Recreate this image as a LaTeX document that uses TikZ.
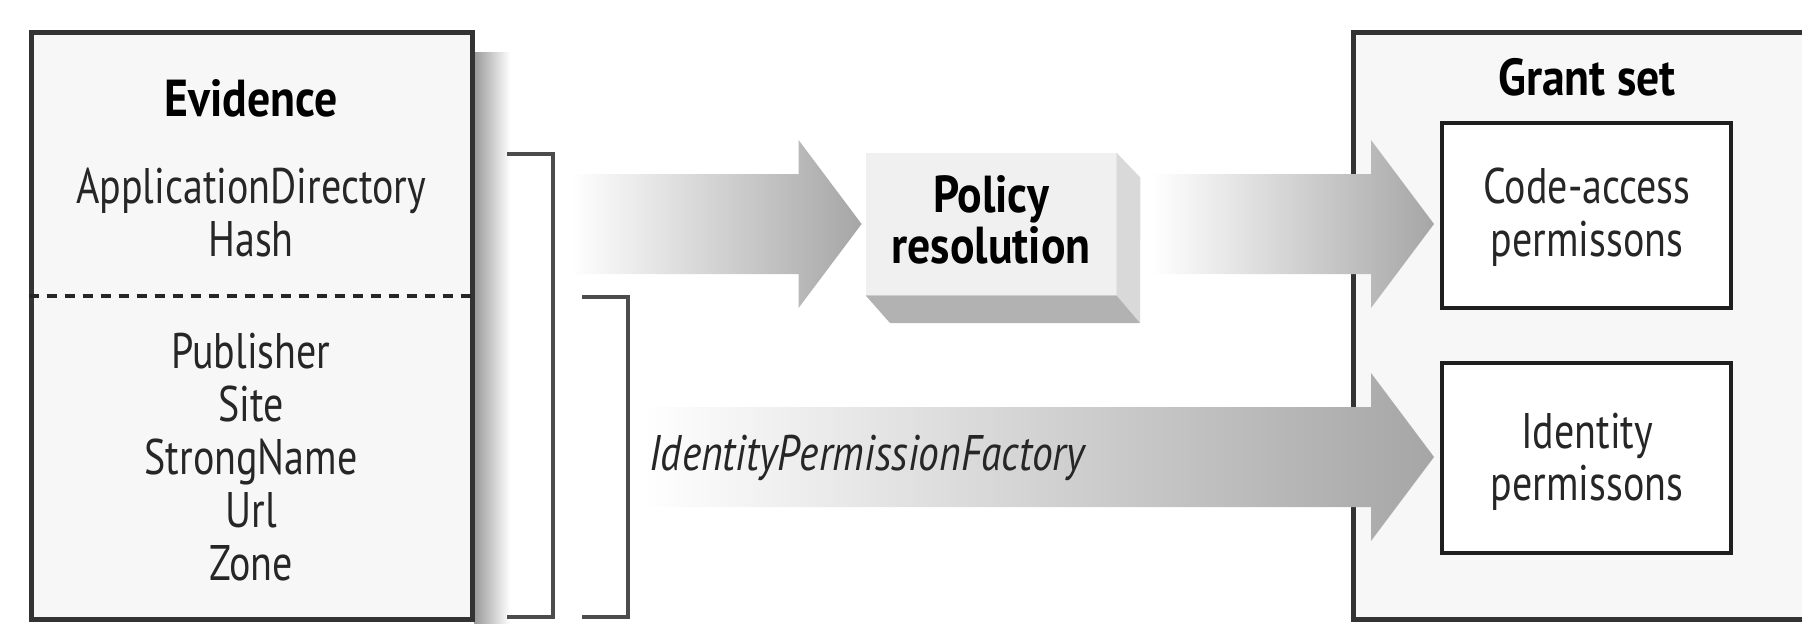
\documentclass[tikz,border=0pt]{standalone}
\usepackage{fontspec}
\setmainfont{PT Sans}[
  UprightFeatures={FakeStretch=0.8},
  ItalicFeatures={FakeStretch=0.83},
  BoldFeatures={FakeStretch=0.88}]
\usetikzlibrary{calc,fit}

\tikzset{
  frame/.style={draw=black!80, line width=2.5pt, fill=black!3, inner sep=0pt},
  permbox/.style={draw=black!88, line width=2pt, fill=white, inner sep=0pt},
  lbl/.style={anchor=base, inner sep=0pt, text=black!85, font=\fontsize{25}{26.5}\selectfont},
  head/.style={anchor=base, inner sep=0pt, text=black, font=\fontsize{26}{27}\selectfont\bfseries},
  brace/.style={draw=black!70, line width=1.6pt},
  flow/.style={left color=white, right color=black!35},
}

% wide shaded block arrow from a start point to a tip point
\newcommand\blockarrow[2]{%
  \shade[flow] ($(#1)+(0,-50)$) -- ($(#2)+(-63,-50)$) -- ($(#2)+(-63,-84)$)
    -- (#2) -- ($(#2)+(-63,84)$) -- ($(#2)+(-63,50)$) -- ($(#1)+(0,50)$) -- cycle;}

\begin{document}
\begin{tikzpicture}[x=0.5pt,y=-0.5pt]
\useasboundingbox (0,0) rectangle (1802,623);

% evidence panel with its soft shadow
\shade[left color=black!40, right color=white] (474,52) rectangle (510,623);
\node[frame, fit={(31,32) (472,619)}] (ev) {};
\coordinate (dl) at (0,296);
\draw[dash pattern=on 5pt off 4pt, line width=2.4pt, black!85] (ev.west |- dl) -- (ev.east |- dl);

\node[head] (evt) at (251,116) {Evidence};
\node[lbl] (e1) at (251,203) {ApplicationDirectory};
\node[lbl] (e2) at (251,256) {Hash};
\node[lbl] (e3) at (251,368) {Publisher};
\node[lbl] (e4) at (251,421) {Site};
\node[lbl] (e5) at (251,474) {StrongName};
\node[lbl] (e6) at (251,527) {Url};
\node[lbl] (e7) at (251,580) {Zone};

% brackets grouping the evidence
\coordinate (b1t) at (507,154);
\coordinate (b1b) at (507,617);
\draw[brace] (b1t) -| (553,617) -- (b1b);
\coordinate (b2t) at (582,297);
\coordinate (b2b) at (582,617);
\draw[brace] (b2t) -| (628,617) -- (b2b);

% policy resolution block with bevels
\node[fill=black!6, inner sep=0pt, fit={(866,153) (1116,295)}] (pol) {};
\fill[black!15] (pol.north east) -- ++(24,25) -- (1140,323) -- (pol.south east) -- cycle;
\fill[black!30] (pol.south west) -- (pol.south east) -- (1140,323) -- (890,323) -- cycle;
\node[head] (pt1) at (991,212) {Policy};
\node[head] (pt2) at (991,263) {resolution};

% grant set panel
\node[frame, fit={(1353,32) (1850,619)}] (gs) {};
\node[head] (gst) at (1587,95) {Grant set};
\node[permbox, fit={(1442,123) (1731,308)}] (cap) {};
\node[lbl] (c1) at (1587,203) {Code-access};
\node[lbl] (c2) at (1587,256) {permissons};
\node[permbox, fit={(1442,363) (1731,553)}] (idp) {};
\node[lbl] (i1) at (1587,448) {Identity};
\node[lbl] (i2) at (1587,500) {permissons};

% flows
\coordinate (a1s) at (570,224);
\coordinate (a1t) at ([xshift=-2pt]pol.west |- a1s);
\blockarrow{a1s}{a1t}
\coordinate (a2s) at (1152,224);
\coordinate (a2t) at ([xshift=-3pt]cap.west |- a2s);
\blockarrow{a2s}{a2t}
\coordinate (a3s) at (643,457);
\coordinate (a3t) at ([xshift=-3pt]idp.west |- a3s);
\blockarrow{a3s}{a3t}
\node[lbl, anchor=base west, font=\fontsize{25}{26.5}\selectfont\itshape] (ipf) at (649,470) {IdentityPermissionFactory};
\end{tikzpicture}
\end{document}
